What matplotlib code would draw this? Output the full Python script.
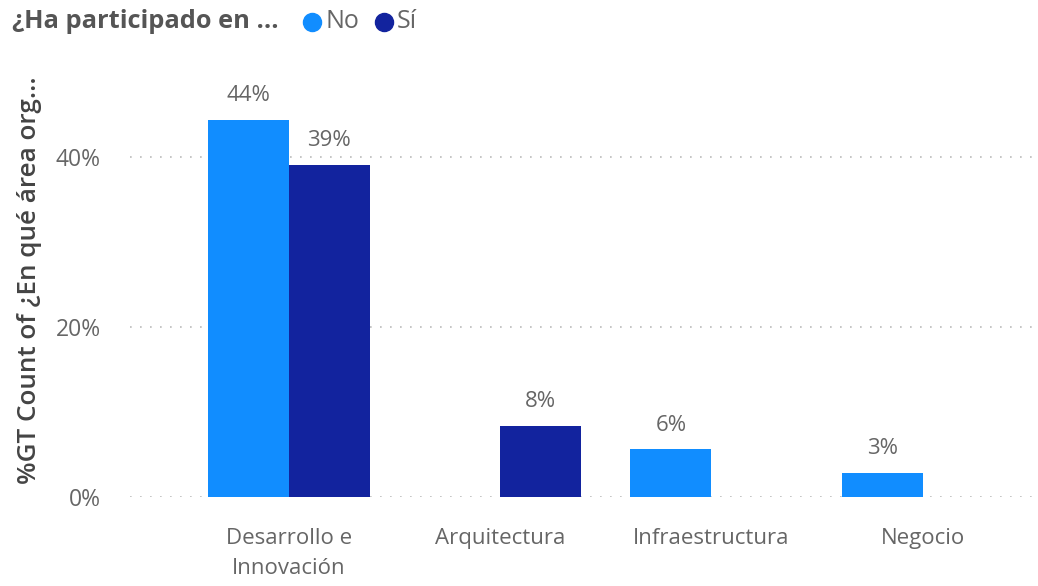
import numpy as np
import matplotlib.pyplot as plt
from matplotlib.lines import Line2D

plt.rcParams['font.family'] = ['Open Sans', 'DejaVu Sans']

# data ----------------------------------
categories = ['Desarrollo e\nInnovación', 'Arquitectura', 'Infraestructura', 'Negocio']
no_vals = [44.4, 0, 5.6, 2.8]
si_vals = [39.1, 8.4, 0, 0]
series_names = ['No', 'Sí']
y_ticks = [0, 20, 40]

c_no = '#118DFF'
c_si = '#12239E'
grey = '#666666'

W, H = 1038, 586
fig = plt.figure(figsize=(W / 100, H / 100), dpi=100)
ax = fig.add_axes([130 / W, 89 / H, 905 / W, 408 / H])

x = np.arange(len(categories))
bw = 0.383

for vals, off, col in [(no_vals, -bw / 2, c_no), (si_vals, bw / 2, c_si)]:
    for xi, v in zip(x, vals):
        if v <= 0:
            continue
        ax.bar(xi + off, v, width=bw, color=col, zorder=3)
        ax.annotate(f'{v:.0f}%', (xi + off, v), xytext=(0, 10), textcoords='offset points',
                    ha='center', va='bottom', fontsize=16, color=grey)

ax.set_xlim(-0.75, 3.53)
ax.set_ylim(0, 48)
ax.set_yticks(y_ticks)
ax.set_yticklabels([f'{t}%' for t in y_ticks], fontsize=16.5, color=grey)
ax.set_xticks(x)
ax.set_xticklabels(categories, fontsize=16, color=grey, linespacing=1.6)
ax.tick_params(length=0, axis='y', pad=21)
ax.tick_params(length=0, axis='x', pad=22)
ax.grid(axis='y', linestyle=(0, (1, 5)), color='#bbbbbb', linewidth=1.2, zorder=0)
for s in ax.spines.values():
    s.set_visible(False)

fig.text(30 / W, 1 - 280 / H, '%GT Count of ¿En qué área org...', rotation=90,
         ha='center', va='center', fontsize=18.8, color='#444444', fontweight='semibold')

# legend row
fig.text(12 / W, 1 - 22 / H, '¿Ha participado en ...', ha='left', va='center',
         fontsize=18.3, color='#555555', fontweight='bold')
fig.add_artist(Line2D([312 / W], [1 - 22 / H], marker='o', markersize=13,
                      color=c_no, transform=fig.transFigure))
fig.text(326 / W, 1 - 22 / H, series_names[0], ha='left', va='center', fontsize=18, color=grey)
fig.add_artist(Line2D([384 / W], [1 - 22 / H], marker='o', markersize=13,
                      color=c_si, transform=fig.transFigure))
fig.text(397 / W, 1 - 22 / H, series_names[1], ha='left', va='center', fontsize=18, color=grey)

fig.savefig('out.png', dpi=100, facecolor='white')
